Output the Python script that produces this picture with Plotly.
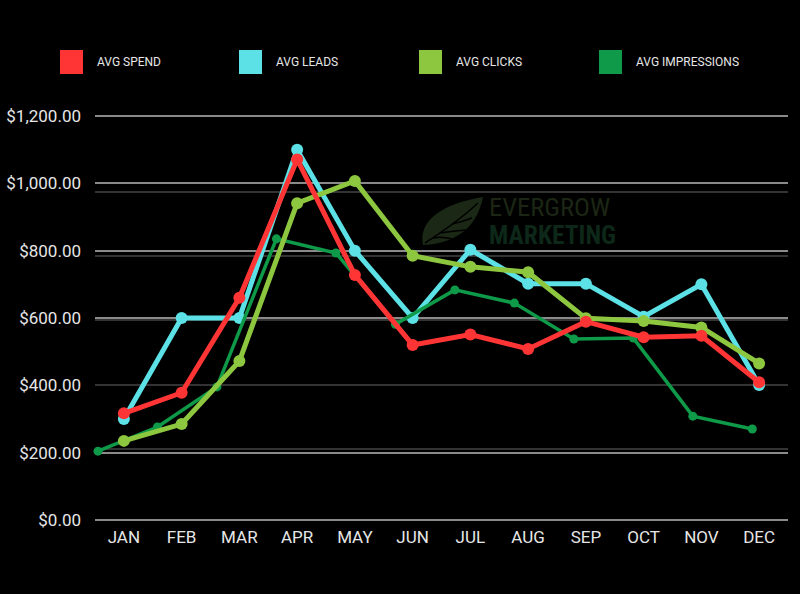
import plotly.graph_objects as go

months = ["JAN", "FEB", "MAR", "APR", "MAY", "JUN", "JUL", "AUG", "SEP", "OCT", "NOV", "DEC"]
avg_spend = [317, 378, 660, 1071, 728, 520, 551, 508, 589, 543, 547, 409]
avg_leads = [300, 600, 600, 1100, 800, 600, 803, 702, 702, 604, 700, 401]
avg_clicks = [235, 285, 472, 941, 1007, 785, 752, 736, 599, 591, 572, 465]
avg_impressions = [193, 268, 393, 854, 810, 588, 695, 654, 542, 545, 302, 262]
impr_index = list(range(12))

y_ticks = [0, 200, 400, 600, 800, 1000, 1200]
y_tick_text = ["$0.00", "$200.00", "$400.00", "$600.00", "$800.00", "$1,000.00", "$1,200.00"]
y2_ticks = [200, 400, 600, 800, 1000]

names = ["AVG SPEND", "AVG LEADS", "AVG CLICKS", "AVG IMPRESSIONS"]
colors = ["#FF3535", "#5CE1E6", "#8DC63F", "#0E9A48"]

W, H = 800, 594
L, R, T, B = 95, 12, 115, 73
PW, PH = W - L - R, H - T - B


def px(x):
    return (x - L) / PW


def py(y):
    return (H - B - y) / PH


fig = go.Figure()

fig.add_trace(go.Scatter(x=months, y=avg_leads, name=names[1], mode="lines+markers",
                         line=dict(color=colors[1], width=5), marker=dict(size=12, color=colors[1]),
                         xaxis="x", yaxis="y", showlegend=False, cliponaxis=False))
fig.add_trace(go.Scatter(x=impr_index, y=avg_impressions, name=names[3], mode="lines+markers",
                         line=dict(color=colors[3], width=3.5), marker=dict(size=9, color=colors[3]),
                         xaxis="x2", yaxis="y2", showlegend=False, cliponaxis=False))
fig.add_trace(go.Scatter(x=months, y=avg_clicks, name=names[2], mode="lines+markers",
                         line=dict(color=colors[2], width=5), marker=dict(size=12, color=colors[2]),
                         xaxis="x3", yaxis="y3", showlegend=False, cliponaxis=False))
fig.add_trace(go.Scatter(x=months, y=avg_spend, name=names[0], mode="lines+markers",
                         line=dict(color=colors[0], width=5), marker=dict(size=12, color=colors[0]),
                         xaxis="x3", yaxis="y3", showlegend=False, cliponaxis=False))

font_main = "Roboto, 'Open Sans', sans-serif"

shapes = []
annotations = []
# custom legend
leg_x = [60, 239, 419, 599]
for i, nm in enumerate(names):
    shapes.append(dict(type="rect", xref="paper", yref="paper",
                       x0=px(leg_x[i]), x1=px(leg_x[i] + 23), y0=py(74), y1=py(50),
                       fillcolor=colors[i], line=dict(width=0), layer="above"))
    annotations.append(dict(text=nm, xref="paper", yref="paper", x=px(leg_x[i] + 35), y=py(62),
                            xanchor="left", yanchor="middle", showarrow=False,
                            font=dict(family=font_main, size=12, color="#e6e6e6")))


def path(pts_cmds):
    out = []
    for c in pts_cmds:
        if isinstance(c, str):
            out.append(c)
        else:
            out.append(f"{px(c[0]):.5f},{py(c[1]):.5f}")
    return " ".join(out)


leaf = path(["M", (423, 245), "C", (418, 222), (440, 204), (483, 197),
             "C", (478, 222), (462, 243), (423, 245), "Z"])
shapes.append(dict(type="path", xref="paper", yref="paper", path=leaf,
                   fillcolor="#1a2815", line=dict(width=0), layer="below"))
vein = path(["M", (425, 243), "C", (445, 230), (462, 218), (478, 203)])
shapes.append(dict(type="path", xref="paper", yref="paper", path=vein,
                   line=dict(color="#000000", width=1.5), layer="below"))
for (a, b, c, d) in [(440, 233, 466, 230), (452, 224, 472, 218), (433, 238, 455, 240)]:
    shapes.append(dict(type="path", xref="paper", yref="paper",
                       path=path(["M", (a, b), "Q", ((a + c) / 2, b - 2), (c, d)]),
                       line=dict(color="#000000", width=1.5), layer="below"))

narrow = "'Liberation Sans Narrow', 'Roboto Condensed', Roboto"
annotations.append(dict(text="EVERGROW", xref="paper", yref="paper", x=px(487), y=py(207),
                        xanchor="left", yanchor="middle", showarrow=False,
                        font=dict(family=narrow, size=26.5, color="#1c2614")))
annotations.append(dict(text="<b>MARKETING</b>", xref="paper", yref="paper", x=px(487), y=py(235),
                        xanchor="left", yanchor="middle", showarrow=False,
                        font=dict(family=narrow, size=25.5, color="#0d2719")))

fig.update_layout(
    width=W, height=H,
    margin=dict(l=L, r=R, t=T, b=B, autoexpand=False),
    paper_bgcolor="#000000", plot_bgcolor="#000000",
    showlegend=False,
    shapes=shapes, annotations=annotations,
    xaxis=dict(range=[-0.5, 11.5], showgrid=False, zeroline=False, showline=False, automargin=False,
               tickfont=dict(family=font_main, size=17, color="#e6e6e6"), ticks="",
               ticklabelstandoff=4),
    yaxis=dict(range=[-3, 1203], tickvals=y_ticks, ticktext=y_tick_text, automargin=False,
               showgrid=True, gridcolor="#8a8a8a", gridwidth=1.5, zeroline=False, showline=False,
               tickfont=dict(family=font_main, size=17, color="#e6e6e6"), ticks="",
               ticklabelstandoff=13),
    xaxis2=dict(overlaying="x", range=[-0.05, 11.6], visible=False),
    yaxis2=dict(overlaying="y", range=[-24.5, 1239.5], tickvals=y2_ticks, showticklabels=False,
                showgrid=True, gridcolor="#333333", gridwidth=1.5, zeroline=False, ticks=""),
    xaxis3=dict(overlaying="x", range=[-0.5, 11.5], visible=False, type="category",
                categoryorder="array", categoryarray=months),
    yaxis3=dict(overlaying="y", range=[-3, 1203], visible=False),
)

fig.write_html("out.html", config={"displayModeBar": False},
               post_script="document.body.style.margin='0';document.body.style.background='#000';")
